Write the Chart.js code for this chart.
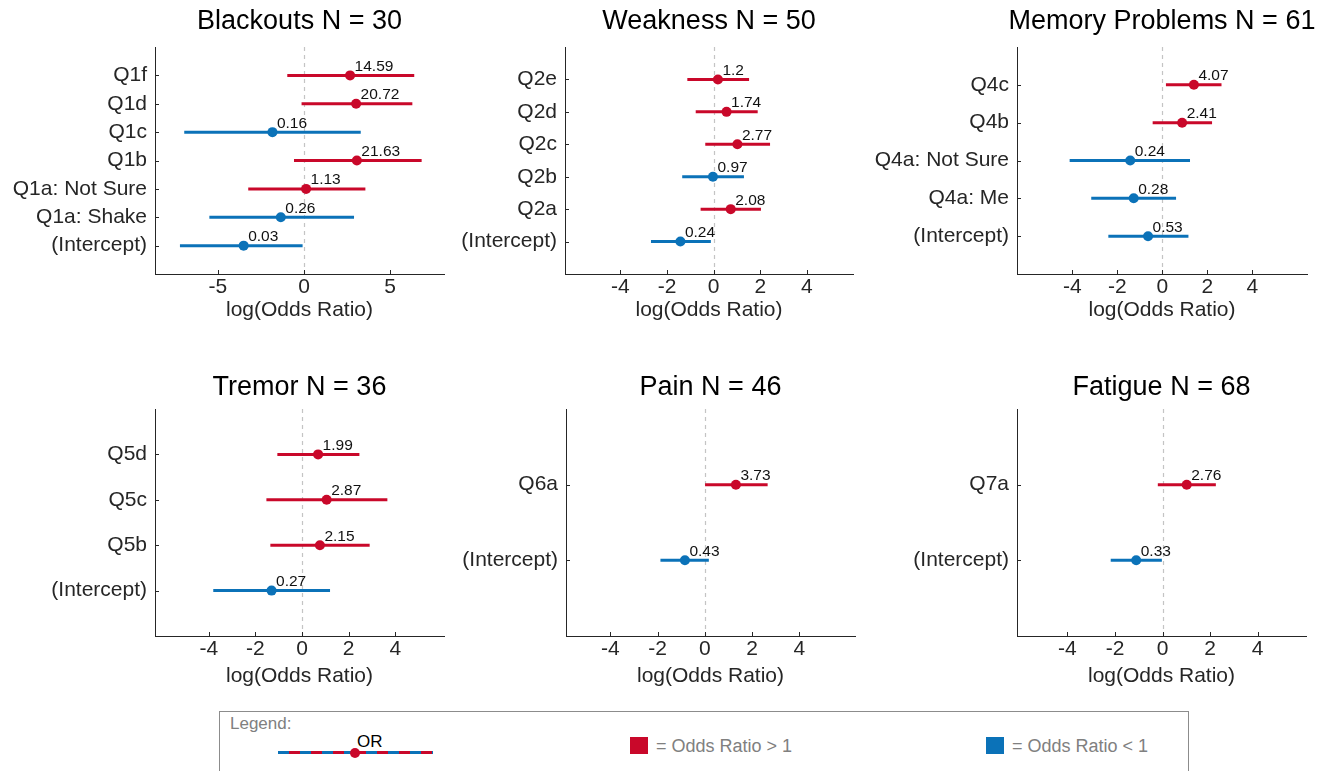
<!DOCTYPE html>
<html>
<head>
<meta charset="utf-8">
<title>Odds ratios by symptom</title>
<script src="https://cdn.jsdelivr.net/npm/chart.js@4.4.1/dist/chart.umd.min.js"></script>
<style>
  html, body { margin: 0; padding: 0; background: #fff; overflow: hidden; }
  body { width: 1331px; height: 771px; position: relative;
         font-family: "Liberation Sans", Arial, Helvetica, sans-serif; }
  canvas { position: absolute; }
  .lg { position: absolute; line-height: 1; white-space: nowrap; }
  .legend-box { position: absolute; left: 219px; top: 711px; width: 970px; height: 80px;
                border: 1px solid #8c8c8c; box-sizing: border-box; }
</style>
</head>
<body>
<div class="legend-box"></div>
<div class="lg" style="left:230px;top:715px;font-size:17px;color:#808080;">Legend:</div>
<div class="lg" style="left:278px;top:751px;width:155px;height:3px;
     background:repeating-linear-gradient(90deg,#0b72b8 0 11px,#c9082a 11px 22px);"></div>
<div class="lg" style="left:350px;top:748px;width:10px;height:10px;border-radius:50%;background:#c9082a;"></div>
<div class="lg" style="left:357px;top:733px;font-size:17px;color:#000;">OR</div>
<div class="lg" style="left:630px;top:737px;width:18px;height:17px;background:#c9082a;"></div>
<div class="lg" style="left:656px;top:737px;font-size:18px;color:#808080;">= Odds Ratio &gt; 1</div>
<div class="lg" style="left:986px;top:737px;width:18px;height:17px;background:#0b72b8;"></div>
<div class="lg" style="left:1012px;top:737px;font-size:18px;color:#808080;">= Odds Ratio &lt; 1</div>

<script>
// ---- Model terms (listed bottom to top), odds ratios and 95% CI bounds on log scale ----

// Blackouts, N = 30
const blackoutsTerms = ['(Intercept)', 'Q1a: Shake', 'Q1a: Not Sure', 'Q1b', 'Q1c', 'Q1d', 'Q1f'];
const blackoutsOR    = [0.03, 0.26, 1.13, 21.63, 0.16, 20.72, 14.59];
const blackoutsLow   = [-7.21, -5.50, -3.24, -0.58, -6.96, -0.14, -0.97];
const blackoutsHigh  = [-0.08, 2.91, 3.57, 6.84, 3.30, 6.30, 6.41];

// Weakness, N = 50
const weaknessTerms = ['(Intercept)', 'Q2a', 'Q2b', 'Q2c', 'Q2d', 'Q2e'];
const weaknessOR    = [0.24, 2.08, 0.97, 2.77, 1.74, 1.2];
const weaknessLow   = [-2.69, -0.56, -1.35, -0.36, -0.77, -1.13];
const weaknessHigh  = [-0.12, 2.03, 1.30, 2.42, 1.89, 1.52];

// Memory problems, N = 61
const memoryTerms = ['(Intercept)', 'Q4a: Me', 'Q4a: Not Sure', 'Q4b', 'Q4c'];
const memoryOR    = [0.53, 0.28, 0.24, 2.41, 4.07];
const memoryLow   = [-2.40, -3.16, -4.12, -0.43, 0.16];
const memoryHigh  = [1.16, 0.61, 1.23, 2.21, 2.63];

// Tremor, N = 36
const tremorTerms = ['(Intercept)', 'Q5b', 'Q5c', 'Q5d'];
const tremorOR    = [0.27, 2.15, 2.87, 1.99];
const tremorLow   = [-3.81, -1.36, -1.53, -1.06];
const tremorHigh  = [1.20, 2.90, 3.66, 2.46];

// Pain, N = 46
const painTerms = ['(Intercept)', 'Q6a'];
const painOR    = [0.43, 3.73];
const painLow   = [-1.88, 0.01];
const painHigh  = [0.17, 2.66];

// Fatigue, N = 68
const fatigueTerms = ['(Intercept)', 'Q7a'];
const fatigueOR    = [0.33, 2.76];
const fatigueLow   = [-2.18, -0.20];
const fatigueHigh  = [-0.03, 2.24];

// x-axis tick values
const ticksWide = [-5, 0, 5];
const ticksStd  = [-4, -2, 0, 2, 4];

// ---- Styling ----
const FONT = '"Liberation Sans", Arial, Helvetica, sans-serif';
const RED = '#c9082a';
const BLUE = '#0b72b8';
const AXIS = '#262626';
Chart.defaults.font.family = FONT;
Chart.defaults.color = AXIS;

// Row geometry (page pixels)
const rows = [
  { top: 0,   h: 330, areaTop: 47,  areaBottom: 274, titleY: 22,  xTitlePad: 7.4 },
  { top: 360, h: 340, areaTop: 409, areaBottom: 636, titleY: 388, xTitlePad: 11.4 }
];

const panels = [
  { title: 'Blackouts N = 30', terms: blackoutsTerms, or: blackoutsOR, lo: blackoutsLow, hi: blackoutsHigh,
    xMin: -8.66, xMax: 8.14, xTicks: ticksWide, row: 0, l: 155, r: 444 },
  { title: 'Weakness N = 50', terms: weaknessTerms, or: weaknessOR, lo: weaknessLow, hi: weaknessHigh,
    xMin: -6.38, xMax: 5.98, xTicks: ticksStd, row: 0, l: 565, r: 853 },
  { title: 'Memory Problems N = 61', terms: memoryTerms, or: memoryOR, lo: memoryLow, hi: memoryHigh,
    xMin: -6.46, xMax: 6.43, xTicks: ticksStd, row: 0, l: 1017, r: 1307 },
  { title: 'Tremor N = 36', terms: tremorTerms, or: tremorOR, lo: tremorLow, hi: tremorHigh,
    xMin: -6.31, xMax: 6.09, xTicks: ticksStd, row: 1, l: 155, r: 444 },
  { title: 'Pain N = 46', terms: painTerms, or: painOR, lo: painLow, hi: painHigh,
    xMin: -5.88, xMax: 6.36, xTicks: ticksStd, row: 1, l: 566, r: 855 },
  { title: 'Fatigue N = 68', terms: fatigueTerms, or: fatigueOR, lo: fatigueLow, hi: fatigueHigh,
    xMin: -6.12, xMax: 6.03, xTicks: ticksStd, row: 1, l: 1017, r: 1306 }
];

const colorOf = v => (v > 1 ? RED : BLUE);

// Reference line at zero, OR value labels, inward tick marks and panel title
function forestDecor(panel, row) {
  return {
    id: 'forestDecor',
    beforeDatasetsDraw(chart) {
      const { ctx, chartArea: a, scales: { x } } = chart;
      const x0 = Math.round(x.getPixelForValue(0)) + 0.5;
      ctx.save();
      ctx.strokeStyle = '#c4c4c4';
      ctx.lineWidth = 1.2;
      ctx.setLineDash([4, 4]);
      ctx.beginPath();
      ctx.moveTo(x0, a.top);
      ctx.lineTo(x0, a.bottom);
      ctx.stroke();
      ctx.restore();
    },
    afterDatasetsDraw(chart) {
      const { ctx } = chart;
      const meta = chart.getDatasetMeta(0);
      ctx.save();
      ctx.font = '15.5px ' + FONT;
      ctx.fillStyle = '#111';
      ctx.textAlign = 'left';
      ctx.textBaseline = 'alphabetic';
      meta.data.forEach((pt, i) => {
        ctx.fillText(String(panel.or[i]), pt.x + 4.5, pt.y - 4.5);
      });
      ctx.restore();
    },
    afterDraw(chart) {
      const { ctx, chartArea: a, scales: { x, y } } = chart;
      ctx.save();
      ctx.strokeStyle = AXIS;
      ctx.lineWidth = 1;
      ctx.beginPath();
      x.ticks.forEach(t => {
        const px = Math.round(x.getPixelForValue(t.value)) + 0.5;
        ctx.moveTo(px, a.bottom);
        ctx.lineTo(px, a.bottom - 4);
      });
      y.ticks.forEach(t => {
        const py = Math.round(y.getPixelForValue(t.value)) + 0.5;
        ctx.moveTo(a.left, py);
        ctx.lineTo(a.left + 4, py);
      });
      ctx.stroke();
      ctx.font = '27px ' + FONT;
      ctx.fillStyle = '#000';
      ctx.textAlign = 'center';
      ctx.textBaseline = 'middle';
      ctx.fillText(panel.title, (a.left + a.right) / 2, row.titleY - row.top);
      ctx.restore();
    }
  };
}

function drawPanel(panel) {
  const row = rows[panel.row];
  const yW = 155, padR = 20;
  const left = panel.l - yW;
  const canvas = document.createElement('canvas');
  canvas.width = panel.r - left + padR;
  canvas.height = row.h;
  canvas.style.left = left + 'px';
  canvas.style.top = row.top + 'px';
  document.body.appendChild(canvas);

  // points first so they are painted above the interval lines
  const datasets = [{
    label: 'OR',
    data: panel.or.map((v, i) => ({ x: Math.log(v), y: i + 1 })),
    showLine: false,
    pointRadius: 5,
    pointHoverRadius: 5,
    pointBorderWidth: 0,
    pointBackgroundColor: panel.or.map(colorOf)
  }];
  panel.or.forEach((v, i) => {
    datasets.push({
      label: panel.terms[i],
      data: [{ x: panel.lo[i], y: i + 1 }, { x: panel.hi[i], y: i + 1 }],
      showLine: true,
      borderColor: colorOf(v),
      borderWidth: 3,
      borderCapStyle: 'butt',
      pointRadius: 0,
      pointHoverRadius: 0
    });
  });

  new Chart(canvas, {
    type: 'scatter',
    data: { datasets },
    options: {
      responsive: false,
      animation: false,
      events: [],
      layout: { padding: { top: row.areaTop - row.top, right: padR, left: 0, bottom: 0 } },
      plugins: { legend: { display: false }, tooltip: { enabled: false }, title: { display: false } },
      scales: {
        x: {
          type: 'linear',
          min: panel.xMin,
          max: panel.xMax,
          afterBuildTicks: s => { s.ticks = panel.xTicks.map(v => ({ value: v })); },
          afterFit: s => { s.height = row.top + row.h - row.areaBottom; },
          grid: { display: false, drawTicks: false },
          border: { display: true, color: AXIS, width: 1 },
          ticks: { color: AXIS, font: { size: 21 }, padding: 1, maxRotation: 0, autoSkip: false },
          title: { display: true, text: 'log(Odds Ratio)', color: AXIS, font: { size: 21 },
                   padding: { top: 0, bottom: row.xTitlePad } }
        },
        y: {
          type: 'linear',
          min: 0,
          max: panel.terms.length + 1,
          afterBuildTicks: s => { s.ticks = panel.terms.map((t, i) => ({ value: i + 1 })); },
          afterFit: s => { s.width = yW; },
          grid: { display: false, drawTicks: false },
          border: { display: true, color: AXIS, width: 1 },
          ticks: { color: AXIS, font: { size: 21 }, padding: 8, autoSkip: false,
                   callback: v => panel.terms[Math.round(v) - 1] }
        }
      }
    },
    plugins: [forestDecor(panel, row)]
  });
}

panels.forEach(drawPanel);
</script>
</body>
</html>
